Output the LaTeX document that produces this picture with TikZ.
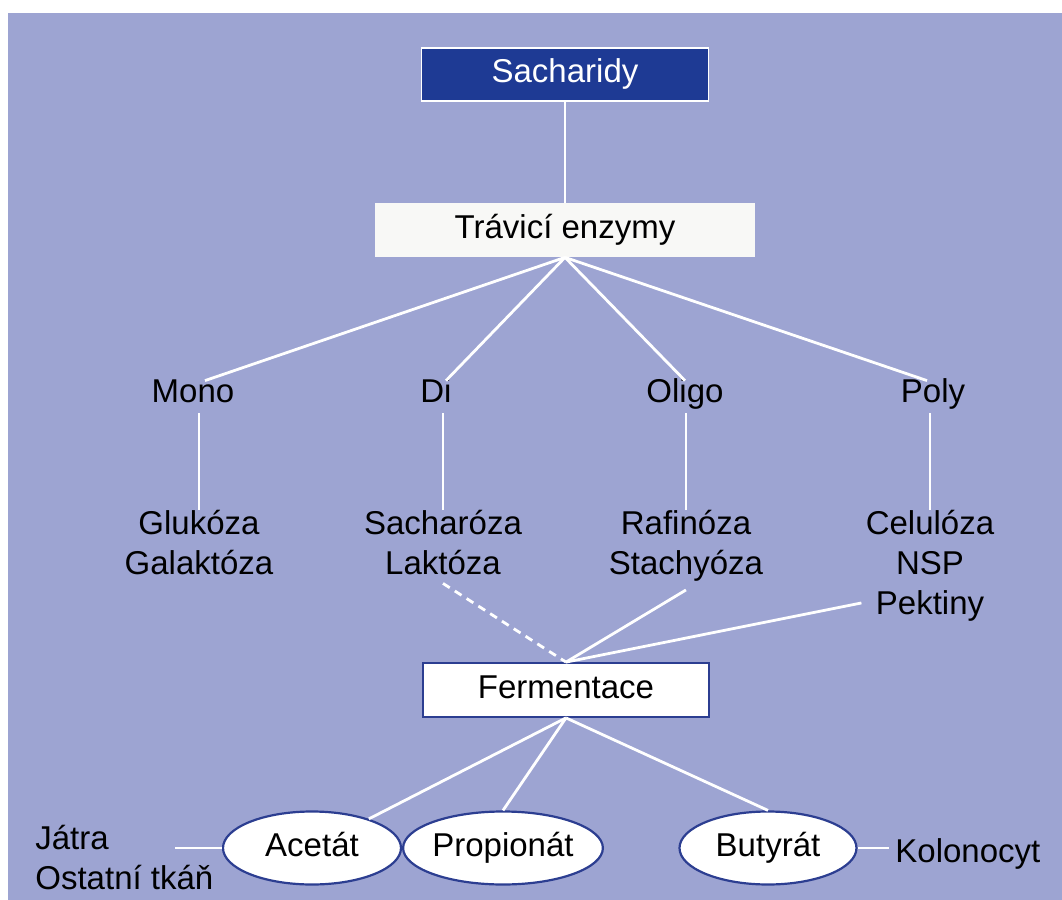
\documentclass[tikz,border=0pt]{standalone}
\usepackage{fontspec}
\setmainfont{Liberation Sans}
\usetikzlibrary{shapes,arrows,positioning,calc}
\usetikzlibrary{shapes.geometric}

\definecolor{pozadi}{RGB}{157,164,210}
\definecolor{tmavamodra}{RGB}{30,58,148}
\definecolor{okraj}{RGB}{44,62,145}
\definecolor{svetla}{RGB}{248,248,246}

\begin{document}
\begin{tikzpicture}[x=0.5pt,y=0.5pt,yscale=-1,xscale=1,
  font=\fontsize{16.5}{20}\selectfont,
  hlavni/.style={draw=white,line width=0.8pt,fill=tmavamodra,text=white,minimum width=143.5pt,minimum height=26.5pt,inner sep=0pt,text height=12pt,text depth=4pt},
  enzym/.style={fill=svetla,minimum width=190pt,minimum height=27pt,inner sep=0pt,text height=12pt,text depth=4pt},
  krabice/.style={draw=okraj,line width=0.9pt,fill=white,minimum width=143pt,minimum height=27pt,inner sep=0pt,text height=12pt,text depth=4pt},
  skupina/.style={anchor=base,inner sep=3pt,text height=0.75em,text depth=0.25em},
  latky/.style={anchor=north,align=center,inner sep=4pt},
  kyselina/.style={ellipse,draw=okraj,line width=1.1pt,fill=white,minimum height=36.5pt,inner sep=0pt,text height=12pt,text depth=4pt},
  spoj/.style={white,line width=1.4pt},
  carkovane/.style={spoj,dash pattern=on 4pt off 3pt}
]
%set diagram size 1062 x 900
\useasboundingbox (0,0) rectangle (1062,900);
\fill [white] (0,0) rectangle (1062,900);
\fill [pozadi] (8,13) rectangle (1062,900);

% Boxes
\node [hlavni] (sach) at (565,74.5) {Sacharidy};
\node [enzym] (trav) at (565,230) {Trávicí enzymy};
\node [krabice] (ferm) at (566,690) {Fermentace};

% Text Node
\node [skupina] (mono) at (193,402) {Mono};
\node [skupina] (di) at (436,402) {Di};
\node [skupina] (oligo) at (685,402) {Oligo};
\node [skupina] (poly) at (933,402) {Poly};

% Text Node
\node [latky] (monolatky) at (199,502) {Glukóza\\Galaktóza};
\node [latky] (dilatky) at (443,502) {Sacharóza\\Laktóza};
\node [latky] (oligolatky) at (686,502) {Rafinóza\\Stachyóza};
\node [latky] (polylatky) at (930,502) {Celulóza\\NSP\\Pektiny};

% Shape: Ellipse
\node [kyselina,minimum width=89pt] (acet) at (312,848) {Acetát};
\node [kyselina,minimum width=95.5pt] (prop) at (503,848) {Propionát};
\node [kyselina,minimum width=88.5pt] (buty) at (768,848) {Butyrát};

% Text Node
\node [anchor=north west,align=left,inner sep=4pt] (jatra) at (27,817) {Játra\\Ostatní tkáň};
\node [anchor=base west,inner sep=3pt] (kolo) at (889,862) {Kolonocyt};
\coordinate (jatraspoj) at (175,848);

%Straight Lines
\draw [spoj] (sach) -- (trav);
\draw [spoj] (trav.south) -- ([xshift=6pt]mono.north);
\draw [spoj] (trav.south) -- ([xshift=5pt]di.north);
\draw [spoj] (trav.south) -- (oligo.north);
\draw [spoj] (trav.south) -- ([xshift=-3pt]poly.north);

%Straight Lines
\draw [spoj,shorten >=-4pt] (monolatky.north |- mono.south) -- (monolatky.north);
\draw [spoj,shorten >=-4pt] (dilatky.north |- di.south) -- (dilatky.north);
\draw [spoj,shorten >=-4pt] (oligolatky.north |- oligo.south) -- (oligolatky.north);
\draw [spoj,shorten >=-4pt] (polylatky.north |- poly.south) -- (polylatky.north);

%Straight Lines
\draw [carkovane] (dilatky.south) -- (ferm.north);
\draw [spoj] (oligolatky.south) -- (ferm.north);
\draw [spoj] ($(polylatky.south west)+(4,-27)$) -- (ferm.north);

%Straight Lines
\draw [spoj] (ferm.south) -- (acet);
\draw [spoj] (ferm.south) -- (prop.north);
\draw [spoj] (ferm.south) -- (buty.north);
\draw [spoj] (acet.west) -- (jatraspoj);
\draw [spoj] (buty.east) -- (buty.east -| kolo.west);
\end{tikzpicture}
\end{document}
